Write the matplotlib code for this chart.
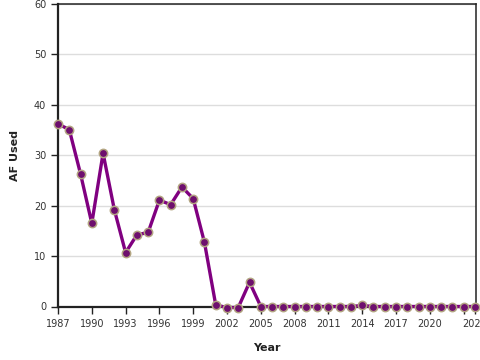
import matplotlib

matplotlib.use("Agg")
import matplotlib.pyplot as plt

# Data
years = list(range(1987, 2025))
af_used = [
    36.2, 35.1, 26.3, 16.5, 30.4, 19.2, 10.7, 14.2, 14.7, 21.1,
    20.2, 23.7, 21.4, 12.7, 0.3, -0.2, -0.2, 4.8, 0.0, 0.0,
    0.0, 0.0, 0.0, 0.0, 0.0, 0.0, 0.0, 0.2, 0.0, 0.0,
    0.0, 0.0, 0.0, 0.0, 0.0, 0.0, 0.0, 0.0,
]
x_ticks = list(range(1987, 2024, 3)) + [2024]
x_labels = [str(t) if t != 2023 else "" for t in x_ticks]
y_ticks = [0, 10, 20, 30, 40, 50, 60]

fig = plt.figure(figsize=(4.8, 3.6), dpi=100)
ax = fig.add_axes([58 / 480, 1 - 306.5 / 360, 418 / 480, 302.5 / 360])

ax.plot(
    years, af_used,
    color="#800080", linewidth=2.4, zorder=3,
    marker="o", markersize=6, markerfacecolor="#6e0f6e",
    markeredgecolor="#b3a582", markeredgewidth=1.1, clip_on=False,
)

ax.set_xlim(1987, 2024.1)
ax.set_ylim(0, 60)
ax.set_xticks(x_ticks)
ax.set_xticklabels(x_labels)
ax.set_yticks(y_ticks)

ax.grid(axis="y", color="#dddddd", linewidth=1)
ax.set_axisbelow(True)

for side in ["left", "bottom"]:
    ax.spines[side].set_linewidth(1.6)
    ax.spines[side].set_color("#222222")
for side in ["top", "right"]:
    ax.spines[side].set_linewidth(1.1)
    ax.spines[side].set_color("#222222")

ax.tick_params(axis="both", labelsize=7, colors="#222222", length=5, width=1, labelcolor="#333333")
ax.tick_params(axis="x", pad=4)

ax.set_xlabel("Year", fontsize=8, fontweight="bold", color="#222222", labelpad=10)
ax.set_ylabel("AF Used", fontsize=8, fontweight="bold", color="#222222", labelpad=10)

fig.savefig("out.png", dpi=100)
